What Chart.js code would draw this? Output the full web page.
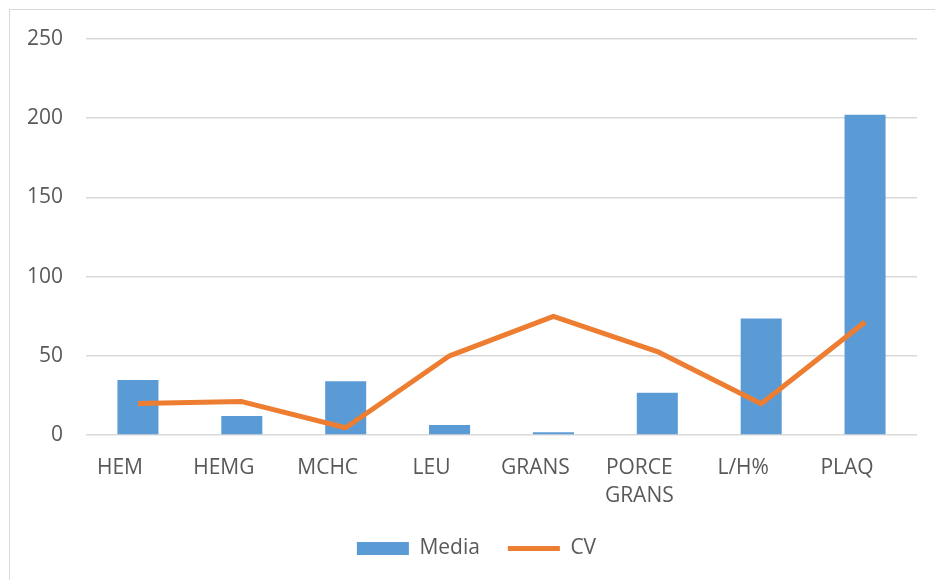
<!DOCTYPE html>
<html><head><meta charset="utf-8">
<script src="https://cdn.jsdelivr.net/npm/chart.js@4/dist/chart.umd.min.js"></script>
<style>
html,body{margin:0;padding:0;background:#fff;}
#wrap{position:relative;width:935px;height:580px;overflow:hidden;}
#frame{position:absolute;left:9px;top:9px;width:940px;height:590px;border-left:1px solid #d9d9d9;border-top:1px solid #d9d9d9;}
canvas{position:absolute;left:0;top:0;}
</style></head><body>
<div id="wrap"><div id="frame"></div><canvas id="c" width="935" height="580"></canvas></div>
<script>
const categories = ['HEM', 'HEMG', 'MCHC', 'LEU', 'GRANS', ['PORCE', 'GRANS'], 'L/H%', 'PLAQ'];
const mediaValues = [34.7, 12, 34, 6.3, 1.7, 26.6, 73.6, 202.2];
const cvValues = [19.9, 21.1, 4.6, 50, 74.9, 52.7, 19.7, 71.3];
const yTickValues = [0, 50, 100, 150, 200, 250];

const BLUE = '#5B9BD5';
const ORANGE = '#ED7D31';
const TEXT = '#595959';
const GRID = '#D9D9D9';
const FONT = 'Open Sans';

new Chart(document.getElementById('c'), {
  type: 'bar',
  data: {
    labels: categories,
    datasets: [
      {
        type: 'bar',
        label: 'Media',
        data: mediaValues,
        backgroundColor: BLUE,
        borderWidth: 0,
        categoryPercentage: 1,
        barPercentage: 0.395,
        yAxisID: 'y',
        order: 1
      },
      {
        type: 'line',
        label: 'CV',
        data: cvValues,
        borderColor: ORANGE,
        backgroundColor: ORANGE,
        borderWidth: 5,
        pointRadius: 0,
        tension: 0,
        borderJoinStyle: 'round',
        fill: false,
        yAxisID: 'y',
        order: 0
      }
    ]
  },
  options: {
    responsive: false,
    animation: false,
    devicePixelRatio: 1,
    layout: { padding: { left: 18, right: 0, top: 39, bottom: 11 } },
    plugins: {
      tooltip: { enabled: false },
      legend: {
        position: 'bottom',
        labels: {
          usePointStyle: true,
          pointStyleWidth: 52,
          boxHeight: 13,
          padding: 28,
          color: TEXT,
          font: { family: FONT, size: 21 },
          generateLabels(chart) {
            const items = Chart.defaults.plugins.legend.labels.generateLabels(chart);
            items.forEach(it => {
              if (it.datasetIndex === 0) {
                it.pointStyle = 'rect';
                it.lineWidth = 0;
                it.fillStyle = BLUE;
                it.strokeStyle = BLUE;
              } else {
                it.pointStyle = 'line';
                it.lineWidth = 5;
                it.strokeStyle = ORANGE;
                it.fillStyle = ORANGE;
              }
            });
            return items.sort((a, b) => a.datasetIndex - b.datasetIndex);
          }
        }
      }
    },
    scales: {
      x: {
        grid: { display: false, drawTicks: false },
        border: { display: false },
        ticks: {
          color: TEXT,
          font: { family: FONT, size: 21, lineHeight: 1.33 },
          padding: 19,
          labelOffset: -18,
          maxRotation: 0,
          minRotation: 0,
          autoSkip: false
        },
        afterFit: s => { s.height = 75; }
      },
      y: {
        position: 'left',
        min: 0,
        max: 250,
        afterBuildTicks: s => { s.ticks = yTickValues.map(v => ({ value: v })); },
        grid: { color: GRID, lineWidth: 1.5, drawTicks: false },
        border: { display: false },
        ticks: {
          color: TEXT,
          font: { family: FONT, size: 21 },
          padding: 23
        },
        afterFit: s => { s.width = 68; }
      },
      yRight: {
        position: 'right',
        display: true,
        grid: { display: false, drawTicks: false },
        border: { display: false },
        ticks: { display: false },
        afterFit: s => { s.width = 18; }
      }
    }
  }
});
</script>
</body></html>
